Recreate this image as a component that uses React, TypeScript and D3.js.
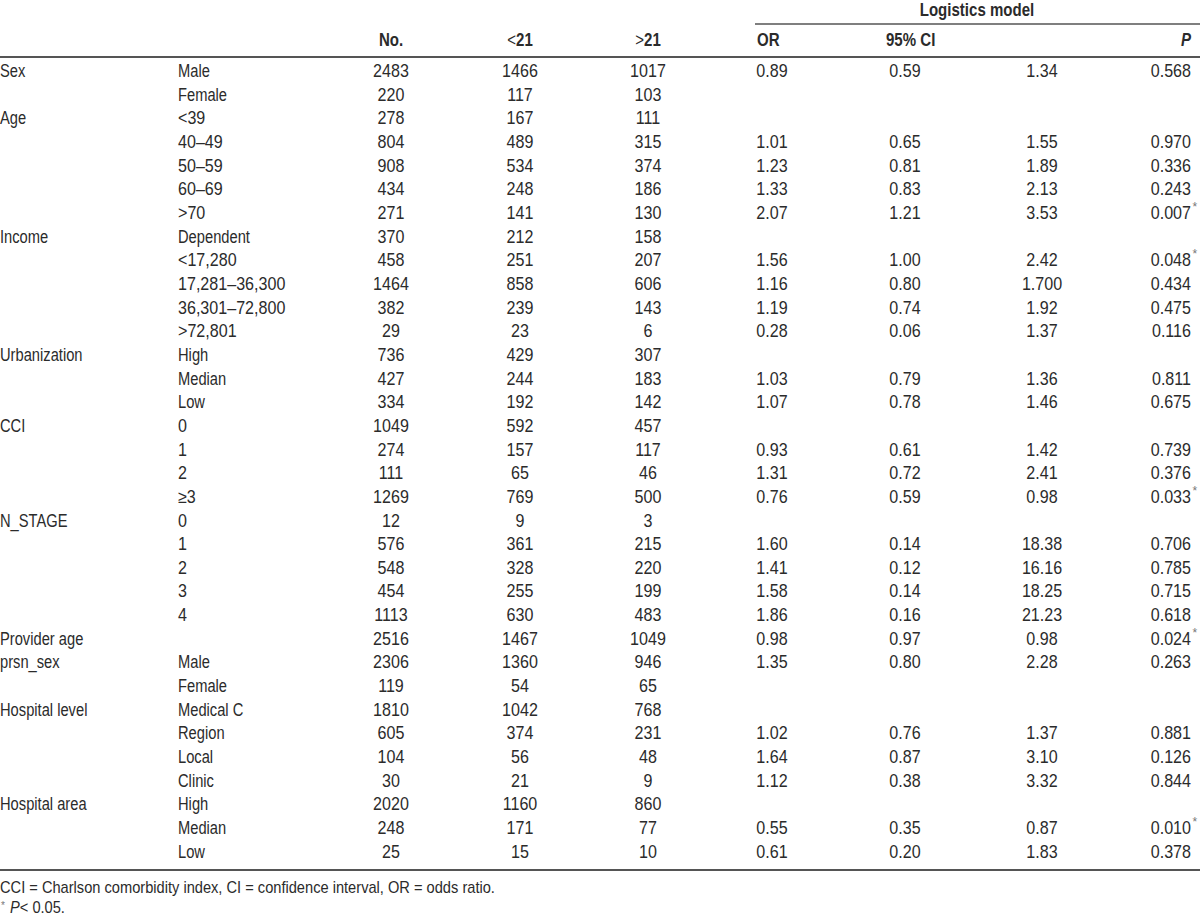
import React from "react";
import * as d3 from "d3";

const groups = ["Sex", "", "Age", "", "", "", "", "Income", "", "", "", "", "Urbanization", "", "", "CCI", "", "", "", "N_STAGE", "", "", "", "", "Provider age", "prsn_sex", "", "Hospital level", "", "", "", "Hospital area", "", ""];
const levels = ["Male", "Female", "<39", "40–49", "50–59", "60–69", ">70", "Dependent", "<17,280", "17,281–36,300", "36,301–72,800", ">72,801", "High", "Median", "Low", "0", "1", "2", "≥3", "0", "1", "2", "3", "4", "", "Male", "Female", "Medical C", "Region", "Local", "Clinic", "High", "Median", "Low"];
const nTotal = ["2483", "220", "278", "804", "908", "434", "271", "370", "458", "1464", "382", "29", "736", "427", "334", "1049", "274", "111", "1269", "12", "576", "548", "454", "1113", "2516", "2306", "119", "1810", "605", "104", "30", "2020", "248", "25"];
const nLt21 = ["1466", "117", "167", "489", "534", "248", "141", "212", "251", "858", "239", "23", "429", "244", "192", "592", "157", "65", "769", "9", "361", "328", "255", "630", "1467", "1360", "54", "1042", "374", "56", "21", "1160", "171", "15"];
const nGt21 = ["1017", "103", "111", "315", "374", "186", "130", "158", "207", "606", "143", "6", "307", "183", "142", "457", "117", "46", "500", "3", "215", "220", "199", "483", "1049", "946", "65", "768", "231", "48", "9", "860", "77", "10"];
const oddsRatio = ["0.89", "", "", "1.01", "1.23", "1.33", "2.07", "", "1.56", "1.16", "1.19", "0.28", "", "1.03", "1.07", "", "0.93", "1.31", "0.76", "", "1.60", "1.41", "1.58", "1.86", "0.98", "1.35", "", "", "1.02", "1.64", "1.12", "", "0.55", "0.61"];
const ciLow = ["0.59", "", "", "0.65", "0.81", "0.83", "1.21", "", "1.00", "0.80", "0.74", "0.06", "", "0.79", "0.78", "", "0.61", "0.72", "0.59", "", "0.14", "0.12", "0.14", "0.16", "0.97", "0.80", "", "", "0.76", "0.87", "0.38", "", "0.35", "0.20"];
const ciHigh = ["1.34", "", "", "1.55", "1.89", "2.13", "3.53", "", "2.42", "1.700", "1.92", "1.37", "", "1.36", "1.46", "", "1.42", "2.41", "0.98", "", "18.38", "16.16", "18.25", "21.23", "0.98", "2.28", "", "", "1.37", "3.10", "3.32", "", "0.87", "1.83"];
const pValue = ["0.568", "", "", "0.970", "0.336", "0.243", "0.007", "", "0.048", "0.434", "0.475", "0.116", "", "0.811", "0.675", "", "0.739", "0.376", "0.033", "", "0.706", "0.785", "0.715", "0.618", "0.024", "0.263", "", "", "0.881", "0.126", "0.844", "", "0.010", "0.378"];
const significant = [false, false, false, false, false, false, true, false, true, false, false, false, false, false, false, false, false, false, true, false, false, false, false, false, true, false, false, false, false, false, false, false, true, false];

const W = 1200;
const H = 917;
const FONT = "'Liberation Sans', Arial, Helvetica, sans-serif";
const TEXT = "#2b2b2b";
const LINE = "#555";
const FS = 17.5;
const WORD_SCALE = 0.84;
const NUM_SCALE = 0.92;

const isNum = (s: string) => /^[0-9.,–<>≥\s]+$/.test(s);

function T({ x, y, anchor = "start", children, scale, ...rest }: any) {
  const s = scale ?? (typeof children === "string" && isNum(children) ? NUM_SCALE : WORD_SCALE);
  return (
    <text transform={`translate(${x},${y}) scale(${s},1)`} textAnchor={anchor} dy="0.35em" {...rest}>
      {children}
    </text>
  );
}

export default function App() {
  const idx = d3.range(levels.length);
  const y = d3.scaleBand<number>().domain(idx).range([59.2, 59.2 + levels.length * 23.65]).padding(0);
  const cy = (i: number) => (y(i) as number) + y.bandwidth() / 2;

  const colX = { group: 0, level: 178, n: 391, lt: 520, gt: 648, or: 772, lo: 905, hi: 1042, p: 1191 };

  return (
    <svg width={W} height={H} style={{ position: "absolute", left: 0, top: 0, background: "#fff" }} fontFamily={FONT}>
      <rect x={0} y={0} width={W} height={H} fill="#fff" />
      {/* header */}
      <g fontSize={FS} fill={TEXT} fontWeight="bold">
        <T x={977} y={10} anchor="middle" scale={0.86}>Logistics model</T>
        <T x={colX.n} y={40} anchor="middle" scale={0.86}>No.</T>
        <T x={colX.lt} y={40} anchor="middle" scale={0.86}><tspan fontWeight="normal">&lt;</tspan>21</T>
        <T x={colX.gt} y={40} anchor="middle" scale={0.86}><tspan fontWeight="normal">&gt;</tspan>21</T>
        <T x={757} y={40} scale={0.86}>OR</T>
        <T x={886} y={40} scale={0.86}>95% CI</T>
        <T x={colX.p} y={40} anchor="end" scale={0.86} fontStyle="italic">P</T>
      </g>
      <line x1={755} x2={W} y1={24} y2={24} stroke={LINE} strokeWidth={1.5} />
      <line x1={0} x2={W} y1={57} y2={57} stroke={LINE} strokeWidth={2} />
      {/* body */}
      <g fontSize={FS} fill={TEXT}>
        {idx.map((i) => (
          <g key={i}>
            {groups[i] && <T x={colX.group} y={cy(i)}>{groups[i]}</T>}
            {levels[i] && <T x={colX.level} y={cy(i)}>{levels[i]}</T>}
            <T x={colX.n} y={cy(i)} anchor="middle">{nTotal[i]}</T>
            <T x={colX.lt} y={cy(i)} anchor="middle">{nLt21[i]}</T>
            <T x={colX.gt} y={cy(i)} anchor="middle">{nGt21[i]}</T>
            {oddsRatio[i] && <T x={colX.or} y={cy(i)} anchor="middle">{oddsRatio[i]}</T>}
            {ciLow[i] && <T x={colX.lo} y={cy(i)} anchor="middle">{ciLow[i]}</T>}
            {ciHigh[i] && <T x={colX.hi} y={cy(i)} anchor="middle">{ciHigh[i]}</T>}
            {pValue[i] && <T x={colX.p} y={cy(i)} anchor="end">{pValue[i]}</T>}
            {significant[i] && (
              <text x={colX.p + 1.5} y={cy(i) - 2} fontSize={12} fill="#777">*</text>
            )}
          </g>
        ))}
      </g>
      <line x1={0} x2={W} y1={870} y2={870} stroke={LINE} strokeWidth={2} />
      {/* footnotes */}
      <g fontSize={16} fill={TEXT}>
        <T x={0} y={887} scale={0.915}>CCI = Charlson comorbidity index, CI = confidence interval, OR = odds ratio.</T>
        <text x={1} y={909} fontSize={10} fill="#777">*</text>
        <T x={10} y={907} scale={0.915}><tspan fontStyle="italic">P</tspan><tspan>&lt; 0.05.</tspan></T>
      </g>
    </svg>
  );
}
